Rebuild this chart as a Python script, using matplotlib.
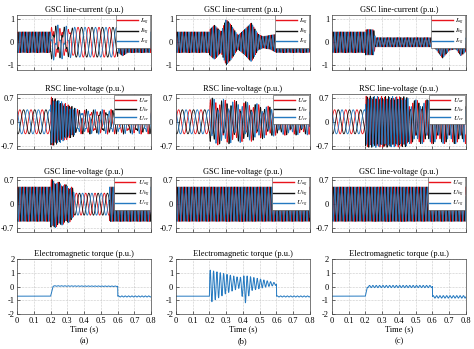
import numpy as np
import matplotlib
matplotlib.use('Agg')
import matplotlib.pyplot as plt

plt.rcParams['font.family'] = ['Liberation Serif', 'DejaVu Serif']
plt.rcParams['mathtext.fontset'] = 'stix'
plt.rcParams['axes.unicode_minus'] = False

# ---- data -----------------------------------------------------------
# each 3-phase panel: knot times, envelope amplitude at knots, carrier
# frequency (Hz) from each knot on, second component amp, dc offset
cases = ['(a)', '(b)', '(c)']
titles = ['GSC line-current (p.u.)', 'RSC line-voltage (p.u.)',
          'GSC line-voltage (p.u.)', 'Electromagnetic torque (p.u.)']
labels_ig = [r'$I_{ag}$', r'$I_{bg}$', r'$I_{cg}$']
labels_ur = [r'$U_{ar}$', r'$U_{br}$', r'$U_{cr}$']
labels_ug = [r'$U_{ag}$', r'$U_{bg}$', r'$U_{cg}$']
time_ticks = [0, 0.1, 0.2, 0.3, 0.4, 0.5, 0.6, 0.7, 0.8]
time_labels = ['0', '0.1', '0.2', '0.3', '0.4', '0.5', '0.6', '0.7', '0.8']

# GSC line current
ig_a_t = [0, 0.2, 0.201, 0.3, 0.35, 0.6, 0.601, 0.63, 0.66, 0.8]
ig_a_amp = [0.45, 0.45, 0.55, 0.5, 0.65, 0.65, 0.45, 0.45, 0.45, 0.45]
ig_a_freq = [50, 50, 20, 20, 16, 16, 50, 50, 50, 50]
ig_a_amp2 = [0, 0, 0.25, 0.2, 0, 0, 0, 0, 0, 0]
ig_a_dc = [0, 0, 0, 0, 0, 0, 0, -0.15, 0, 0]

ig_b_t = [0, 0.2, 0.201, 0.23, 0.27, 0.30, 0.33, 0.37, 0.41, 0.45, 0.49,
          0.52, 0.56, 0.6, 0.8]
ig_b_amp = [0.45, 0.45, 0.55, 0.75, 0.45, 1.0, 0.75, 0.3, 0.55, 0.85, 0.35,
            0.25, 0.3, 0.4, 0.4]
ig_b_freq = [50] * 15
ig_b_amp2 = [0] * 15
ig_b_dc = [0, 0, 0, 0, 0, 0, 0, 0, 0, 0, 0, 0, 0, -0.05, -0.05]

ig_c_t = [0, 0.2, 0.201, 0.25, 0.26, 0.6, 0.62, 0.66, 0.7, 0.74, 0.77, 0.8]
ig_c_amp = [0.45, 0.45, 0.55, 0.55, 0.2, 0.2, 0.3, 0.3, 0.3, 0.3, 0.3, 0.3]
ig_c_freq = [50] * 12
ig_c_amp2 = [0] * 12
ig_c_dc = [0, 0, 0, 0, 0, 0, 0, -0.4, -0.05, 0, -0.3, -0.1]

# RSC line voltage
ur_a_t = [0, 0.2, 0.201, 0.35, 0.351, 0.8]
ur_a_amp = [0.35, 0.35, 0.68, 0.35, 0.28, 0.28]
ur_a_freq = [15, 15, 60, 60, 25, 25]
ur_a_amp2 = [0, 0, 0.05, 0.05, 0.08, 0.08]
ur_a_dc = [0] * 6

ur_b_t = [0, 0.2, 0.201, 0.45, 0.6, 0.8]
ur_b_amp = [0.35, 0.35, 0.5, 0.42, 0.3, 0.28]
ur_b_freq = [15, 15, 35, 35, 35, 35]
ur_b_amp2 = [0, 0, 0.2, 0.15, 0.1, 0.1]
ur_b_dc = [0] * 6

ur_c_t = [0, 0.2, 0.201, 0.45, 0.46, 0.8]
ur_c_amp = [0.35, 0.35, 0.7, 0.68, 0.5, 0.5]
ur_c_freq = [15, 15, 55, 55, 40, 40]
ur_c_amp2 = [0, 0, 0.05, 0.05, 0.14, 0.14]
ur_c_dc = [0] * 6

# GSC line voltage
ug_a_t = [0, 0.2, 0.201, 0.33, 0.34, 0.55, 0.551, 0.8]
ug_a_amp = [0.5, 0.5, 0.68, 0.45, 0.32, 0.32, 0.5, 0.5]
ug_a_freq = [50, 50, 50, 50, 18, 18, 50, 50]
ug_a_amp2 = [0, 0, 0.05, 0.05, 0, 0, 0, 0]
ug_a_dc = [0] * 8

ug_b_t = [0, 0.3, 0.45, 0.8]
ug_b_amp = [0.5, 0.5, 0.5, 0.5]
ug_b_freq = [50, 52, 50, 50]
ug_b_amp2 = [0, 0, 0, 0]
ug_b_dc = [0] * 4

ug_c_t = [0, 0.25, 0.45, 0.8]
ug_c_amp = [0.5, 0.5, 0.5, 0.5]
ug_c_freq = [50, 52, 50, 50]
ug_c_amp2 = [0, 0, 0, 0]
ug_c_dc = [0] * 4

# electromagnetic torque: mean level + ripple amplitude at knots
te_a_t = [0, 0.2, 0.215, 0.6, 0.601, 0.8]
te_a_mean = [-0.7, -0.7, 0.04, 0.02, -0.72, -0.72]
te_a_ripple = [0, 0, 0.02, 0.02, 0.04, 0.04]

te_b_t = [0, 0.2, 0.201, 0.3, 0.38, 0.41, 0.45, 0.55, 0.6, 0.601, 0.8]
te_b_mean = [-0.7, -0.7, 0.0, 0.2, 0.27, -0.25, 0.2, 0.2, 0.17, -0.72, -0.72]
te_b_ripple = [0, 0, 1.2, 0.7, 0.38, 1.05, 0.5, 0.2, 0.08, 0.04, 0.04]

te_c_t = [0, 0.2, 0.212, 0.6, 0.601, 0.8]
te_c_mean = [-0.7, -0.7, 0.0, 0.0, -0.75, -0.75]
te_c_ripple = [0, 0, 0.08, 0.08, 0.09, 0.09]

# ---- signals ---------------------------------------------------------
dt = 1e-4
t = np.arange(0, 0.8 + dt, dt)


def theta(knots, freqs):
    idx = np.clip(np.searchsorted(knots, t, side='right') - 1, 0, len(freqs) - 1)
    f = np.asarray(freqs, dtype=float)[idx]
    return 2 * np.pi * np.cumsum(f) * dt


def three_phase(knots, amp, freq, amp2, dc, freq2=75.0):
    A = np.interp(t, knots, amp)
    B = np.interp(t, knots, amp2)
    D = np.interp(t, knots, dc)
    th = theta(knots, freq)
    th2 = 2 * np.pi * freq2 * t
    return [A * np.sin(th - 2 * np.pi * k / 3) + B * np.sin(th2 + 2 * np.pi * k / 3) + D
            for k in range(3)]


def torque(knots, mean, ripple):
    return np.interp(t, knots, mean) + np.interp(t, knots, ripple) * np.sin(2 * np.pi * 50 * t)


rows = [
    [three_phase(ig_a_t, ig_a_amp, ig_a_freq, ig_a_amp2, ig_a_dc, 60),
     three_phase(ig_b_t, ig_b_amp, ig_b_freq, ig_b_amp2, ig_b_dc),
     three_phase(ig_c_t, ig_c_amp, ig_c_freq, ig_c_amp2, ig_c_dc)],
    [three_phase(ur_a_t, ur_a_amp, ur_a_freq, ur_a_amp2, ur_a_dc, 70),
     three_phase(ur_b_t, ur_b_amp, ur_b_freq, ur_b_amp2, ur_b_dc, 55),
     three_phase(ur_c_t, ur_c_amp, ur_c_freq, ur_c_amp2, ur_c_dc, 65)],
    [three_phase(ug_a_t, ug_a_amp, ug_a_freq, ug_a_amp2, ug_a_dc),
     three_phase(ug_b_t, ug_b_amp, ug_b_freq, ug_b_amp2, ug_b_dc),
     three_phase(ug_c_t, ug_c_amp, ug_c_freq, ug_c_amp2, ug_c_dc)],
    [torque(te_a_t, te_a_mean, te_a_ripple),
     torque(te_b_t, te_b_mean, te_b_ripple),
     torque(te_c_t, te_c_mean, te_c_ripple)],
]
row_labels = [labels_ig, labels_ur, labels_ug, None]
row_ylim = [(-1.2, 1.2), (-0.8, 0.8), (-0.8, 0.8), (-2, 2)]
row_yticks = [[-1, 0, 1], [-0.7, 0, 0.7], [-0.7, 0, 0.7], [-2, -1, 0, 1, 2]]
row_yticklabels = [['-1', '0', '1'], ['-0.7', '0', '0.7'], ['-0.7', '0', '0.7'],
                   ['-2', '-1', '0', '1', '2']]
phase_colors = ['#e8141c', '#111111', '#2479c0']

# ---- layout ----------------------------------------------------------
fig = plt.figure(figsize=(4.74, 3.49), dpi=100)
lefts = [0.036, 0.371, 0.700]
bottoms = [0.800, 0.572, 0.336, 0.100]
w, h = 0.283, 0.158

for r in range(4):
    for c in range(3):
        ax = fig.add_axes([lefts[c], bottoms[r], w, h])
        data = rows[r][c]
        if r < 3:
            for k in range(3):
                ax.plot(t, data[k], color=phase_colors[k], lw=0.6,
                        label=row_labels[r][k])
            leg = ax.legend(loc='upper right', fontsize=5.0, handlelength=3.0,
                            borderpad=0.15, labelspacing=0.0, handletextpad=0.3,
                            borderaxespad=0.12, fancybox=False, framealpha=1,
                            edgecolor='#444444')
            leg.get_frame().set_linewidth(0.4)
            for line in leg.get_lines():
                line.set_linewidth(1.0)
        else:
            ax.plot(t, data, color='#2479c0', lw=0.7)
        ax.set_xlim(0, 0.8)
        ax.set_ylim(*row_ylim[r])
        ax.set_yticks(row_yticks[r])
        ax.set_yticklabels(row_yticklabels[r])
        ax.set_xticks(time_ticks)
        if r == 3:
            ax.set_xticklabels(time_labels)
            ax.set_xlabel('Time (s)', fontsize=6, labelpad=0.5)
            ax.text(0.5, -0.5, cases[c], transform=ax.transAxes, ha='center',
                    va='center', fontsize=6)
        else:
            ax.set_xticklabels([])
        ax.set_title(titles[r], fontsize=6, pad=2)
        ax.tick_params(direction='in', length=2, width=0.4, labelsize=6, pad=2)
        ax.grid(True, linestyle=':', color='#999999', linewidth=0.4)
        for s in ax.spines.values():
            s.set_linewidth(0.5)
            s.set_color('#444444')

fig.savefig('out.png', dpi=100)
